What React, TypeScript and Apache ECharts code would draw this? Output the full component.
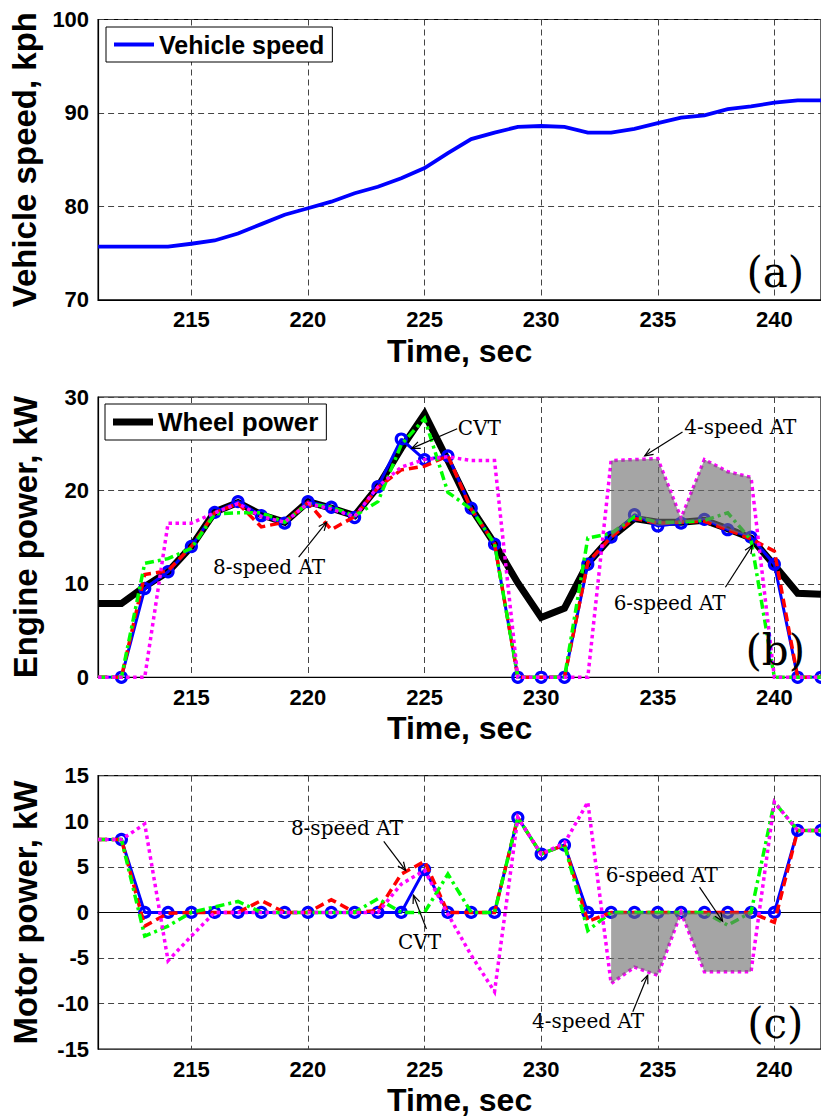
import React, { useEffect, useRef } from "react";
import * as echarts from "echarts";

// ---------- data ----------
const TIME = [211, 212, 213, 214, 215, 216, 217, 218, 219, 220, 221, 222, 223, 224, 225, 226,
  227, 228, 229, 230, 231, 232, 233, 234, 235, 236, 237, 238, 239, 240, 241, 242];

const VEHICLE_SPEED = [75.7, 75.7, 75.7, 75.7, 76.0, 76.35, 77.1, 78.1, 79.1, 79.8, 80.5, 81.4, 82.1, 83.0, 84.1, 85.7,
  87.2, 87.9, 88.5, 88.6, 88.5, 87.9, 87.9, 88.3, 88.9, 89.5, 89.75, 90.4, 90.7, 91.1, 91.35, 91.35];

const WHEEL_POWER = [7.9, 7.9, 9.7, 11.3, 14.0, 17.7, 18.7, 17.4, 16.6, 18.8, 18.1, 17.3, 20.4, 24.5, 28.2, 23.2,
  18.1, 14.3, 10.1, 6.4, 7.4, 12.2, 15.0, 17.0, 16.6, 16.6, 16.8, 15.9, 14.9, 12.0, 9.0, 8.9];
const CVT_ENGINE = [0, 0, 9.5, 11.3, 14.0, 17.65, 18.8, 17.3, 16.5, 18.8, 18.2, 17.1, 20.4, 25.5, 23.3, 23.7,
  18.1, 14.25, 0, 0, 0, 12.1, 15.0, 17.4, 16.2, 16.5, 16.9, 15.8, 15.0, 12.1, 0, 0];
const AT8_ENGINE = [0, 0, 11.0, 11.4, 14.0, 17.6, 18.6, 16.1, 16.6, 18.7, 15.8, 17.2, 20.3, 22.2, 22.6, 23.7,
  18.0, 14.3, 0, 0, 0, 12.3, 15.0, 17.0, 16.5, 16.6, 16.7, 15.8, 14.8, 13.5, 0, 0];
const AT6_ENGINE = [0, 0, 12.2, 12.7, 13.8, 17.5, 17.6, 17.6, 16.6, 18.6, 18.2, 17.3, 18.8, 24.9, 27.7, 19.8,
  18.0, 14.3, 0, 0, 0, 14.9, 15.4, 17.2, 16.6, 16.6, 16.8, 17.6, 14.7, 0, 0, 0];
const AT4_ENGINE = [0, 0, 0, 16.5, 16.5, 17.6, 18.6, 17.2, 16.6, 18.6, 18.0, 17.2, 20.4, 22.5, 23.3, 23.6,
  23.2, 23.2, 0, 0, 0, 0, 23.2, 23.3, 23.4, 17.0, 23.3, 22.0, 21.4, 0, 0, 0];

const CVT_MOTOR = [8, 8, 0, 0, 0, 0, 0, 0, 0, 0, 0, 0, 0, 0, 4.7, 0,
  0, 0, 10.4, 6.4, 7.4, 0, 0, 0, 0, 0, 0, 0, 0, 0, 9.0, 9.0];
const AT8_MOTOR = [8, 8, -1.5, -0.1, 0, 0, 0, 1.3, 0, 0, 1.4, 0, 0.2, 4.2, 5.6, 0,
  0, 0, 10.4, 6.4, 7.4, -1.0, 0, 0, 0, 0, 0, 0, 0, -1.1, 9.0, 9.0];
const AT6_MOTOR = [8, 8, -2.6, -1.5, 0, 0.6, 1.2, 0, 0, 0, 0, 0, 1.5, 0, 0, 4.2,
  0, 0, 10.4, 6.4, 7.4, -2.0, 0, 0, 0, 0, 0, -1.4, 0, 12.1, 9.0, 9.0];
const AT4_MOTOR = [8, 8, 9.7, -5.3, -2.6, 0, 0, 0, 0, 0, 0, 0, 0, 3.1, 4.6, -0.2,
  -4.7, -8.7, 10.4, 6.4, 7.6, 12.1, -7.8, -6.0, -6.9, 0, -6.5, -6.5, -6.5, 12.1, 9.0, 9.0];

// shaded band (4-speed AT deviation) spans these seconds
const GRAY_START = 233;
const GRAY_END = 239;

const SPEED_TICKS = [70, 80, 90, 100];
const ENGINE_TICKS = [0, 10, 20, 30];
const MOTOR_TICKS = [-15, -10, -5, 0, 5, 10, 15];

// annotations in data coordinates: [time, value]
const ANNOTATIONS = [
  { grid: 1, text: "CVT", at: [227.35, 26.7], tail: [226.4, 26.6], tip: [224.45, 24.5] },
  { grid: 1, text: "4-speed AT", at: [238.54, 26.8], tail: [236.06, 26.25], tip: [234.44, 23.7] },
  { grid: 1, text: "6-speed AT", at: [235.51, 7.9], tail: [237.9, 9.64], tip: [239.06, 14.14] },
  { grid: 1, text: "8-speed AT", at: [218.33, 11.8], tail: [219.6, 12.86], tip: [220.8, 16.6] },
  { grid: 2, text: "8-speed AT", at: [221.67, 9.3], tail: [223.25, 7.8], tip: [224.19, 4.6] },
  { grid: 2, text: "CVT", at: [224.78, -3.3], tail: [225.08, -1.83], tip: [224.52, 1.9] },
  { grid: 2, text: "6-speed AT", at: [235.17, 4.06], tail: [236.79, 2.78], tip: [237.78, -0.97] },
  { grid: 2, text: "4-speed AT", at: [232.01, -11.9], tail: [233.93, -10.9], tip: [234.57, -6.9] },
];
const PANEL_LABELS = [
  { grid: 0, text: "(a)", at: [240.04, 72.95] },
  { grid: 1, text: "(b)", at: [240.04, 2.9] },
  { grid: 2, text: "(c)", at: [240.04, -12.2] },
];

// ---------- styles ----------
const SANS = "Liberation Sans";
const SERIF = "DejaVu Serif";
const GRAY = "rgba(110,110,110,0.62)";
const GRID_LEFT = 98.1;
const GRID_WIDTH = 725.4;
const GRID_TOPS = [19.5, 397, 775.7];
const GRID_HEIGHT = 280.3;

const pairs = (vals: number[]) => TIME.map((t, i) => [t, vals[i]]);
const markerPairs = (vals: number[]) =>
  TIME.map((t, i) => (i === 0 ? { value: [t, vals[i]], symbol: "none" } : [t, vals[i]]));

function lineSeries(name: string, grid: number, vals: number[], color: string, width: number, type: any, z = 2) {
  return {
    name,
    type: "line",
    xAxisIndex: grid,
    yAxisIndex: grid,
    data: pairs(vals),
    symbol: "none",
    z,
    lineStyle: { color, width, type, cap: "butt", join: "miter" },
    itemStyle: { color },
    silent: true,
  };
}

function cvtSeries(grid: number, vals: number[]) {
  return {
    name: "CVT",
    type: "line",
    xAxisIndex: grid,
    yAxisIndex: grid,
    data: markerPairs(vals),
    symbol: "circle",
    symbolSize: 10,
    showSymbol: true,
    showAllSymbol: true,
    z: 2,
    lineStyle: { color: "#0000ff", width: 3 },
    itemStyle: { color: "rgba(0,0,0,0)", borderColor: "#0000ff", borderWidth: 3.2 },
    silent: true,
  };
}

function graySeries(grid: number, upperAll: number[], lowerAll: number[]) {
  const idx = TIME.map((t, i) => i).filter((i) => TIME[i] >= GRAY_START && TIME[i] <= GRAY_END);
  const ts = idx.map((i) => TIME[i]);
  const up = idx.map((i) => upperAll[i]);
  const lo = idx.map((i) => lowerAll[i]);
  return {
    type: "custom",
    xAxisIndex: grid,
    yAxisIndex: grid,
    z: 5,
    silent: true,
    data: ts.map((t, i) => [t, up[i], lo[i]]),
    encode: { x: 0, y: [1, 2] },
    renderItem: (params: any, api: any) => {
      if (params.dataIndex !== 0) return null;
      const pts: number[][] = [];
      for (let i = 0; i < ts.length; i++) pts.push(api.coord([ts[i], up[i]]));
      for (let i = ts.length - 1; i >= 0; i--) pts.push(api.coord([ts[i], lo[i]]));
      return { type: "polygon", shape: { points: pts }, style: { fill: GRAY } };
    },
  };
}

function xAxis(grid: number) {
  return {
    type: "value",
    gridIndex: grid,
    min: TIME[0],
    max: TIME[TIME.length - 1],
    splitNumber: 6,
    minInterval: 5,
    maxInterval: 5,
    name: "Time, sec",
    nameLocation: "middle",
    nameGap: 32.7,
    nameTextStyle: { fontFamily: SANS, fontWeight: "bold", fontSize: 32, lineHeight: 36, color: "#000" },
    axisLine: { show: true, lineStyle: { color: "#000", width: 1.2 } },
    axisTick: { show: false },
    axisLabel: {
      showMinLabel: false,
      showMaxLabel: false,
      margin: 8,
      fontFamily: SANS,
      fontWeight: "bold",
      fontSize: 22,
      lineHeight: 24,
      color: "#000",
    },
    splitLine: { show: true, lineStyle: { color: "#444", width: 1, type: [6, 4] } },
  };
}

function yAxis(grid: number, name: string, ticks: number[]) {
  return {
    type: "value",
    gridIndex: grid,
    min: ticks[0],
    max: ticks[ticks.length - 1],
    interval: ticks[1] - ticks[0],
    name,
    nameLocation: "middle",
    nameGap: 56,
    nameTextStyle: { fontFamily: SANS, fontWeight: "bold", fontSize: 33, color: "#000" },
    axisLine: { show: true, lineStyle: { color: "#000", width: 1.2 } },
    axisTick: { show: false },
    axisLabel: { margin: 9, fontFamily: SANS, fontWeight: "bold", fontSize: 22, color: "#000" },
    splitLine: { show: true, lineStyle: { color: "#444", width: 1, type: [6, 4] } },
  };
}

function legend(name: string, left: number, top: number, fontSize: number, lineWidth: number) {
  return {
    data: [name],
    left,
    top,
    orient: "horizontal",
    backgroundColor: "#fff",
    borderColor: "#000",
    borderWidth: 1,
    padding: [5, 8, 5, 8],
    icon: "rect",
    itemWidth: 40,
    itemHeight: lineWidth,
    selectedMode: false,
    textStyle: { fontFamily: SANS, fontWeight: "bold", fontSize, color: "#000" },
  };
}

export default function App() {
  const ref = useRef<HTMLDivElement>(null);

  useEffect(() => {
    if (!ref.current) return;
    const chart = echarts.init(ref.current, undefined, { renderer: "svg" });
    const option: any = {
      animation: false,
      backgroundColor: "#fff",
      grid: GRID_TOPS.map((top) => ({
        left: GRID_LEFT,
        top,
        width: GRID_WIDTH,
        height: GRID_HEIGHT,
        show: true,
        borderColor: "#000",
        borderWidth: 1.2,
        backgroundColor: "transparent",
      })),
      xAxis: [xAxis(0), xAxis(1), xAxis(2)],
      yAxis: [
        yAxis(0, "Vehicle speed, kph", SPEED_TICKS),
        yAxis(1, "Engine power, kW", ENGINE_TICKS),
        yAxis(2, "Motor power, kW", MOTOR_TICKS),
      ],
      legend: [
        legend("Vehicle speed", 106, 27, 25, 4),
        legend("Wheel power", 105, 404, 26, 7),
      ],
      series: [
        lineSeries("Vehicle speed", 0, VEHICLE_SPEED, "#0000ff", 3.8, "solid"),
        lineSeries("Wheel power", 1, WHEEL_POWER, "#000000", 7, "solid"),
        cvtSeries(1, CVT_ENGINE),
        lineSeries("8-speed AT", 1, AT8_ENGINE, "#ff0000", 3.5, [9, 5], 3),
        lineSeries("6-speed AT", 1, AT6_ENGINE, "#00ff00", 3.5, [9, 4, 3, 4], 3),
        lineSeries("4-speed AT", 1, AT4_ENGINE, "#ff00ff", 3.5, [3.5, 3.5], 3),
        graySeries(1, AT4_ENGINE, CVT_ENGINE),
        cvtSeries(2, CVT_MOTOR),
        lineSeries("8-speed AT", 2, AT8_MOTOR, "#ff0000", 3.5, [9, 5], 3),
        lineSeries("6-speed AT", 2, AT6_MOTOR, "#00ff00", 3.5, [9, 4, 3, 4], 3),
        lineSeries("4-speed AT", 2, AT4_MOTOR, "#ff00ff", 3.5, [3.5, 3.5], 3),
        graySeries(2, CVT_MOTOR, AT4_MOTOR),
      ],
    };
    chart.setOption(option);

    const toPx = (g: number, p: number[]) =>
      chart.convertToPixel({ xAxisIndex: g, yAxisIndex: g } as any, p) as number[];

    const elements: any[] = [];
    ANNOTATIONS.forEach((a) => {
      const c = toPx(a.grid, a.at);
      const tail = toPx(a.grid, a.tail);
      const tip = toPx(a.grid, a.tip);
      elements.push({
        type: "text",
        x: c[0],
        y: c[1],
        z: 100,
        style: {
          text: a.text,
          font: `20px "${SERIF}"`,
          fill: "#000",
          align: "center",
          verticalAlign: "middle",
          textAlign: "center",
          textVerticalAlign: "middle",
        },
      });
      elements.push({
        type: "polyline",
        z: 100,
        shape: { points: [tail, tip] },
        style: { stroke: "#000", lineWidth: 1.2, fill: null },
      });
      const ang = Math.atan2(tip[1] - tail[1], tip[0] - tail[0]);
      const len = 9;
      const spread = 0.4;
      const p1 = [tip[0] - len * Math.cos(ang - spread), tip[1] - len * Math.sin(ang - spread)];
      const p2 = [tip[0] - len * Math.cos(ang + spread), tip[1] - len * Math.sin(ang + spread)];
      elements.push({
        type: "polyline",
        z: 100,
        shape: { points: [p1, tip, p2] },
        style: { stroke: "#000", lineWidth: 1.2, fill: null },
      });
    });
    PANEL_LABELS.forEach((p) => {
      const c = toPx(p.grid, p.at);
      elements.push({
        type: "text",
        x: c[0],
        y: c[1],
        z: 100,
        style: {
          text: p.text,
          font: `42px "${SERIF}"`,
          fill: "#000",
          align: "center",
          verticalAlign: "middle",
          textAlign: "center",
          textVerticalAlign: "middle",
        },
      });
    });
    chart.setOption({ graphic: elements });

    return () => chart.dispose();
  }, []);

  return (
    <div
      ref={ref}
      style={{ position: "fixed", left: 0, top: 0, width: 821, height: 1119, background: "#fff" }}
    />
  );
}
